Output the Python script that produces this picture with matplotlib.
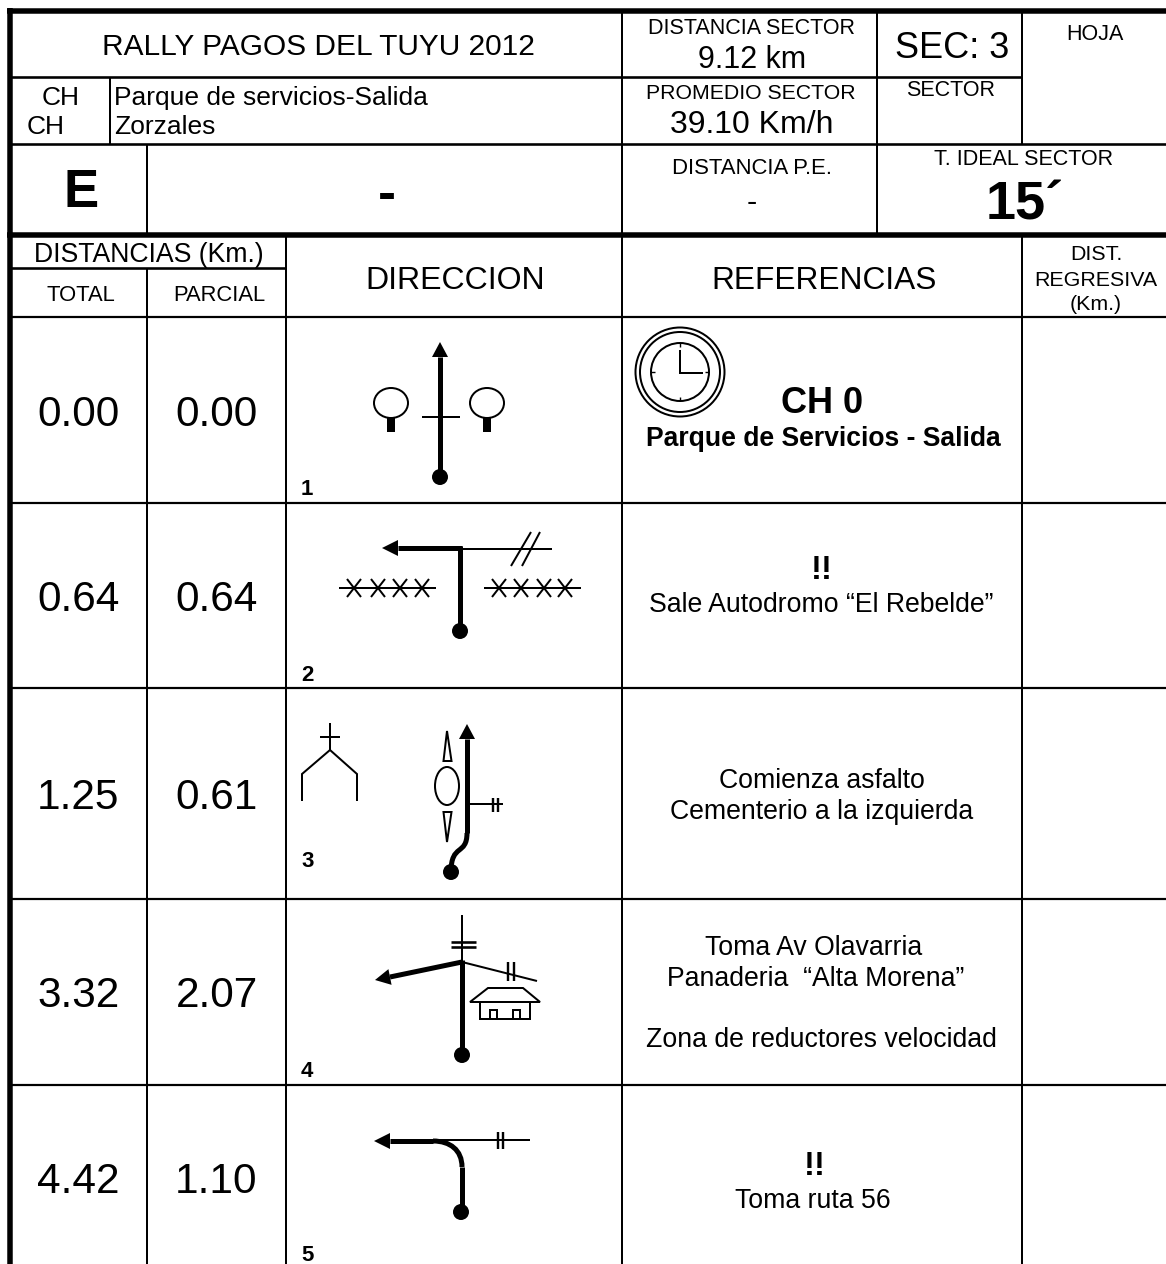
import matplotlib
matplotlib.use('Agg')
import matplotlib.pyplot as plt
from matplotlib.patches import Ellipse, Circle, Polygon, PathPatch
from matplotlib.path import Path

plt.rcParams['font.family'] = ['Liberation Sans', 'DejaVu Sans']

# roadbook values
titulo = 'RALLY PAGOS DEL TUYU 2012'
dist_sector = '9.12 km'
promedio_sector = '39.10 Km/h'
sector = 'SEC: 3'
tiempo_ideal = '15´'
totales = ['0.00', '0.64', '1.25', '3.32', '4.42']
parciales = ['0.00', '0.64', '0.61', '2.07', '1.10']
numeros = ['1', '2', '3', '4', '5']

# layout, all in image pixels
W, H = 1166, 1264
PX = 0.72
FINO = 2
GRUESO = 5
fila_y = [317, 502.7, 688, 898.5, 1084.5]
base_num = [495, 681, 867, 1077, 1261]
base_dist = [426, 611, 809, 1007, 1193]

fig = plt.figure(figsize=(W / 100, H / 100), dpi=100)
ax = fig.add_axes([0, 0, 1, 1])
ax.set_xlim(0, W)
ax.set_ylim(H, 0)
ax.axis('off')


def linea(xs, ys, w=FINO):
    ax.plot(xs, ys, color='black', lw=w * PX, solid_capstyle='butt', solid_joinstyle='miter')


def texto(x, y, s, size, bold=False, ha='center'):
    ax.text(x, y, s, fontsize=size, ha=ha, va='baseline', color='black',
            fontweight='bold' if bold else 'normal')


def punto(x, y):
    ax.add_patch(Circle((x, y), 8, fc='black', ec='none', zorder=4))


def flecha(xbase, ybase, xtip, ytip, xc, yc, medio=8):
    # thick road line ending in an arrow head
    dx, dy = xtip - xbase, ytip - ybase
    n = (dx * dx + dy * dy) ** 0.5
    px, py = -dy / n * medio, dx / n * medio
    ax.add_patch(Polygon([(xtip, ytip), (xbase + px, ybase + py), (xbase - px, ybase - py)],
                         fc='black', ec='none', zorder=4))
    linea([xc, xbase], [yc, ybase], GRUESO)


def curva(puntos, w=GRUESO):
    codes = [Path.MOVETO] + [Path.CURVE4] * (len(puntos) - 1)
    ax.add_patch(PathPatch(Path(puntos, codes), fc='none', ec='black', lw=w * PX, capstyle='butt'))


def contorno(puntos):
    ax.add_patch(Polygon(puntos, fc='none', ec='black', lw=FINO * PX))


# grid
linea([7, W], [10.5, 10.5], 5.5)
linea([7, W], [234.5, 234.5], 5.5)
linea([10, 10], [8, H], 5.5)
linea([10, 1022], [77, 77], 2.6)
linea([10, W], [144, 144], 2.6)
linea([10, 286], [268, 268], 2.6)
for y in fila_y:
    linea([10, W], [y, y], 2.2)
linea([110, 110], [77, 144], FINO)
linea([147, 147], [144, 234], FINO)
linea([147, 147], [268, H], FINO)
linea([286, 286], [234, H], FINO)
linea([622, 622], [10, H], FINO)
linea([877, 877], [10, 234], FINO)
linea([1022, 1022], [10, 144], FINO)
linea([1022, 1022], [234, H], FINO)

# header
texto(318, 55, titulo, 21.5)
texto(752, 34, 'DISTANCIA SECTOR', 15.5)
texto(752, 68, dist_sector, 22)
texto(952, 58, sector, 26)
texto(1095, 40, 'HOJA', 15.5)
texto(951, 96, 'SECTOR', 15.5)
texto(751, 99, 'PROMEDIO SECTOR', 15.3)
texto(752, 133, promedio_sector, 23)
texto(61, 105, 'CH', 19)
texto(27, 134, 'CH', 19, ha='left')
texto(114, 105, 'Parque de servicios-Salida', 19, ha='left')
texto(114, 134, 'Zorzales', 19, ha='left')
texto(81, 207, 'E', 38, bold=True)
texto(387, 210, '-', 39, bold=True)
texto(752, 174, 'DISTANCIA P.E.', 15.9)
texto(752, 211, '-', 22)
texto(1024, 165, 'T. IDEAL SECTOR', 15.5)
texto(1025, 219, tiempo_ideal, 39, bold=True)
texto(149, 262, 'DISTANCIAS (Km.)', 19.2)
texto(81, 301, 'TOTAL', 15.8)
texto(219, 301, 'PARCIAL', 15.8)
texto(455, 289, 'DIRECCION', 23)
texto(824, 289, 'REFERENCIAS', 22.8)
texto(1096, 260, 'DIST.', 15.4)
texto(1096, 286, 'REGRESIVA', 15.4)
texto(1096, 310, '(Km.)', 15.4)

# distances and row numbers
for i in range(len(totales)):
    texto(78.5, base_dist[i], totales[i], 30.5)
    texto(216.5, base_dist[i], parciales[i], 30.5)
    texto(301, base_num[i], numeros[i], 16, bold=True, ha='left')

# references
texto(822, 413, 'CH 0', 26, bold=True)
texto(823, 446, 'Parque de Servicios - Salida', 19.1, bold=True)
texto(822, 579, '!!', 23.5, bold=True)
texto(821.5, 612, 'Sale Autodromo “El Rebelde”', 19.2)
texto(821.5, 788, 'Comienza asfalto', 19.2)
texto(822, 819, 'Cementerio a la izquierda', 19.2)
texto(814, 955, 'Toma Av Olavarria', 19.2)
texto(815.5, 986, 'Panaderia  “Alta Morena”', 19.2)
texto(821, 1047, 'Zona de reductores velocidad', 19.2)
texto(815, 1175, '!!', 23.5, bold=True)
texto(812.5, 1208, 'Toma ruta 56', 19.2)

# clock
for r in (44.5, 40, 29):
    ax.add_patch(Circle((680, 372), r, fc='none', ec='black', lw=FINO * PX))
linea([680, 680], [350, 373], FINO)
linea([679, 703], [372.5, 372.5], FINO)
for x0, y0, x1, y1 in [(680, 343, 680, 347), (680, 397, 680, 401), (651, 372, 655, 372), (705, 372, 709, 372)]:
    linea([x0, x1], [y0, y1], 1.4)

# row 1
linea([422, 460], [417, 417])
flecha(440, 357, 440, 342, 440, 477)
punto(440, 477)
for cx in (391, 487):
    ax.add_patch(Ellipse((cx, 403), 34, 30, fc='none', ec='black', lw=FINO * PX))
    ax.add_patch(Polygon([(cx - 4, 418), (cx + 4, 418), (cx + 4, 432), (cx - 4, 432)], fc='black', ec='none'))

# row 2
flecha(398, 548, 382, 548, 462, 548)
linea([460, 460], [546, 631], GRUESO)
punto(460, 631)
linea([460, 552], [549, 549])
linea([511, 531], [566, 532])
linea([522, 540], [566, 532])
for x0, x1, cruces in [(339, 436, (354, 378, 400, 422)), (484, 581, (499, 521, 544, 565))]:
    linea([x0, x1], [588, 588])
    for cx in cruces:
        linea([cx - 7, cx + 7], [579, 597])
        linea([cx - 7, cx + 7], [597, 579])

# row 3
linea([330, 330], [723, 750])
linea([320, 340], [737, 737])
linea([302, 302, 330, 357, 357], [801, 774, 750, 774, 801])
flecha(467, 739, 467, 724, 467, 833)
curva([(467, 833), (467, 856), (451, 843), (451, 872)])
punto(451, 872)
linea([467, 503], [804, 804])
linea([493, 493], [798, 812], 2.4)
linea([498, 498], [798, 812], 2.4)
ax.add_patch(Ellipse((447, 786), 24, 38, fc='none', ec='black', lw=FINO * PX))
contorno([(447, 731), (443.5, 761), (451.5, 761)])
contorno([(443.5, 812), (451.5, 812), (447, 842)])

# row 4
linea([462, 462], [915, 962])
linea([451, 476], [942, 942], 2.6)
linea([451, 476], [947, 947], 2.6)
linea([462, 537], [962, 981])
linea([508, 508], [962, 981], 2.4)
linea([514, 514], [962, 981], 2.4)
flecha(390, 977, 375, 980, 462, 962)
linea([462, 462], [960, 1055], GRUESO)
punto(462, 1055)
contorno([(470, 1002), (488, 988), (523, 988), (540, 1002)])
linea([480, 480, 530, 530], [1002, 1019, 1019, 1002])
linea([490, 490, 497, 497], [1019, 1010, 1010, 1019])
linea([513, 513, 520, 520], [1019, 1010, 1010, 1019])

# row 5
flecha(390, 1141, 374, 1141, 433, 1141)
curva([(433, 1141), (450, 1141), (462, 1150), (462, 1167)])
linea([462, 462], [1167, 1212], GRUESO)
punto(461, 1212)
linea([433, 530], [1140, 1140])
linea([498, 498], [1132, 1149], 2.4)
linea([503, 503], [1132, 1149], 2.4)

fig.savefig('out.png', dpi=100)
